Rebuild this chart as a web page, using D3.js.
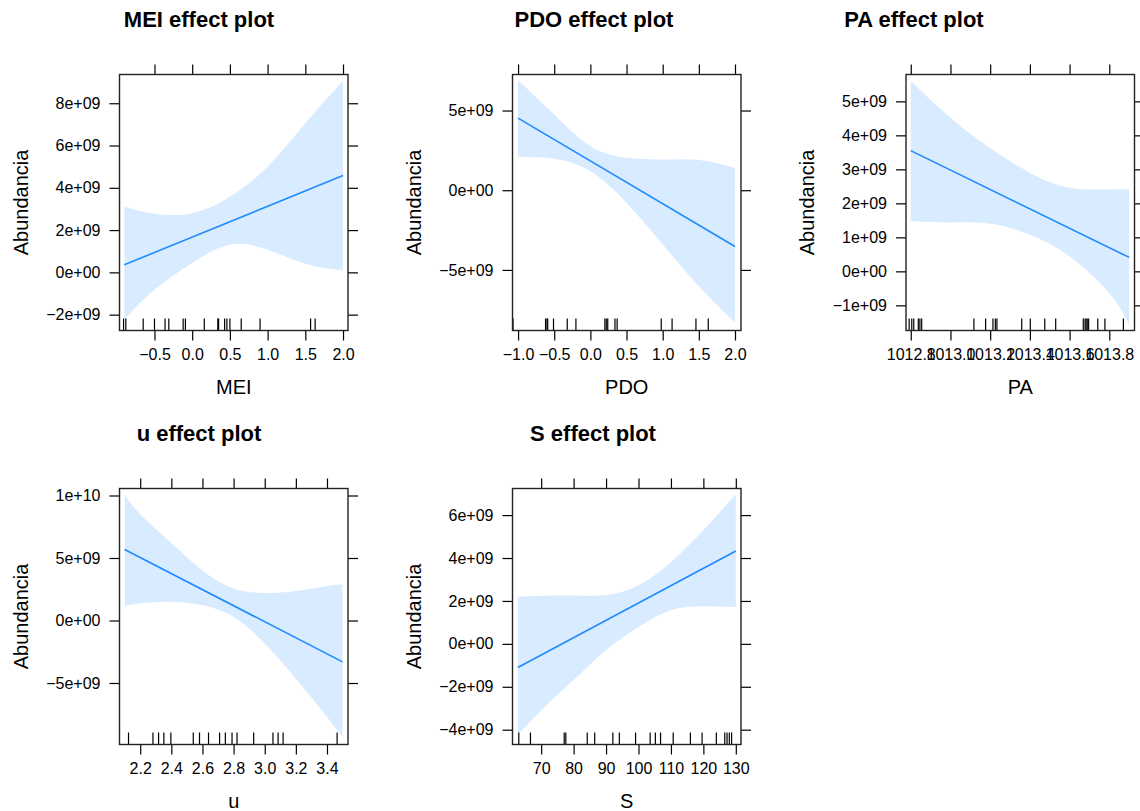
<!DOCTYPE html>
<html>
<head>
<meta charset="utf-8">
<script src="https://cdn.jsdelivr.net/npm/d3@7"></script>
<style>
  body { margin: 0; background: #fff; }
  svg text { font-family: "Liberation Sans", Arial, sans-serif; fill: #000; }
</style>
</head>
<body>
<svg id="chart" width="1140" height="811"></svg>
<script>
// values, abundance in units of 1e9

// MEI
const meiBandX = [-0.9, -0.5, 0, 0.5, 1.0, 1.5, 2.0];
const meiUpper = [3.1, 2.77, 2.8, 3.58, 5.0, 7.05, 9.06];
const meiLower = [-2.23, -0.82, 0.44, 1.31, 1.07, 0.41, 0.09];
const meiFitX = [-0.9, 2.0];
const meiFit = [0.36, 4.58];
const meiRug = [-0.91, -0.88, -0.65, -0.5, -0.36, -0.31, -0.12, -0.09, 0.16, 0.34, 0.35, 0.43, 0.46, 0.5, 0.65, 0.9, 1.57, 1.63];
const meiXTicks = [-0.5, 0, 0.5, 1, 1.5, 2];
const meiXLabels = ["\u22120.5", "0.0", "0.5", "1.0", "1.5", "2.0"];
const meiYTicks = [-2, 0, 2, 4, 6, 8];
const meiYLabels = ["\u22122e+09", "0e+00", "2e+09", "4e+09", "6e+09", "8e+09"];
const meiXLim = [-0.964, 2.066];
const meiYLim = [-2.75, 9.36];

// PDO
const pdoBandX = [-1.0, -0.5, 0, 0.5, 1.0, 1.5, 2.0];
const pdoUpper = [6.9, 4.75, 2.76, 2.03, 1.93, 1.9, 1.4];
const pdoLower = [2.1, 1.97, 1.19, -0.79, -3.41, -6.02, -8.32];
const pdoFitX = [-1.0, 2.0];
const pdoFit = [4.52, -3.53];
const pdoRug = [-1.07, -0.62, -0.6, -0.59, -0.51, -0.32, -0.2, 0.2, 0.22, 0.24, 0.34, 0.37, 0.98, 1.13, 1.46, 1.63];
const pdoXTicks = [-1, -0.5, 0, 0.5, 1, 1.5, 2];
const pdoXLabels = ["\u22121.0", "\u22120.5", "0.0", "0.5", "1.0", "1.5", "2.0"];
const pdoYTicks = [-5, 0, 5];
const pdoYLabels = ["\u22125e+09", "0e+00", "5e+09"];
const pdoXLim = [-1.077, 2.083];
const pdoYLim = [-8.8, 7.26];

// PA
const paBandX = [1012.8, 1013.0, 1013.2, 1013.4, 1013.6, 1013.8, 1013.9];
const paUpper = [5.6, 4.52, 3.63, 2.9, 2.46, 2.41, 2.41];
const paLower = [1.47, 1.44, 1.4, 1.08, 0.44, -0.64, -1.57];
const paFitX = [1012.8, 1013.9];
const paFit = [3.55, 0.41];
const paRug = [1012.792, 1012.805, 1012.815, 1012.838, 1012.846, 1012.855, 1013.118, 1013.177, 1013.214, 1013.226, 1013.234, 1013.359, 1013.402, 1013.475, 1013.53, 1013.669, 1013.678, 1013.683, 1013.689, 1013.696, 1013.742, 1013.778, 1013.871];
const paXTicks = [1012.8, 1013.0, 1013.2, 1013.4, 1013.6, 1013.8];
const paXLabels = ["1012.8", "1013.0", "1013.2", "1013.4", "1013.6", "1013.8"];
const paYTicks = [-1, 0, 1, 2, 3, 4, 5];
const paYLabels = ["\u22121e+09", "0e+00", "1e+09", "2e+09", "3e+09", "4e+09", "5e+09"];
const paXLim = [1012.776, 1013.927];
const paYLim = [-1.74, 5.79];

// u
const uBandX = [2.1, 2.2, 2.4, 2.6, 2.8, 3.0, 3.2, 3.4, 3.5];
const uUpper = [10.1, 8.5, 6.2, 4.0, 2.56, 2.21, 2.37, 2.77, 2.88];
const uLower = [1.17, 1.36, 1.49, 1.22, 0.29, -1.84, -4.64, -7.71, -9.31];
const uFitX = [2.1, 3.5];
const uFit = [5.68, -3.31];
const uRug = [2.125, 2.282, 2.318, 2.352, 2.397, 2.541, 2.581, 2.639, 2.71, 2.747, 2.79, 2.822, 2.929, 3.053, 3.086, 3.118, 3.465];
const uXTicks = [2.2, 2.4, 2.6, 2.8, 3.0, 3.2, 3.4];
const uXLabels = ["2.2", "2.4", "2.6", "2.8", "3.0", "3.2", "3.4"];
const uYTicks = [-5, 0, 5, 10];
const uYLabels = ["\u22125e+09", "0e+00", "5e+09", "1e+10"];
const uXLim = [2.067, 3.535];
const uYLim = [-9.92, 10.56];

// S
const sBandX = [62.8, 70, 80, 90, 100, 110, 120, 130];
const sUpper = [2.19, 2.24, 2.25, 2.28, 2.73, 3.82, 5.3, 6.97];
const sLower = [-4.25, -3.09, -1.69, -0.29, 0.79, 1.57, 1.75, 1.72];
const sFitX = [62.8, 130];
const sFit = [-1.1, 4.33];
const sRug = [63.1, 66.7, 77.1, 77.6, 84.2, 86.5, 92.1, 94.1, 99.1, 103.6, 105.2, 106.8, 110.7, 116.0, 119.6, 124.0, 126.6, 127.3, 128.0, 128.7];
const sXTicks = [70, 80, 90, 100, 110, 120, 130];
const sXLabels = ["70", "80", "90", "100", "110", "120", "130"];
const sYTicks = [-4, -2, 0, 2, 4, 6];
const sYLabels = ["\u22124e+09", "\u22122e+09", "0e+00", "2e+09", "4e+09", "6e+09"];
const sXLim = [61.16, 131.6];
const sYLim = [-4.69, 7.24];

const panels = [
  { name: "MEI", bandX: meiBandX, upper: meiUpper, lower: meiLower, fitX: meiFitX, fit: meiFit, rug: meiRug, xTicks: meiXTicks, xLabels: meiXLabels, yTicks: meiYTicks, yLabels: meiYLabels, xLim: meiXLim, yLim: meiYLim, col: 0, row: 0, titleX: 199 },
  { name: "PDO", bandX: pdoBandX, upper: pdoUpper, lower: pdoLower, fitX: pdoFitX, fit: pdoFit, rug: pdoRug, xTicks: pdoXTicks, xLabels: pdoXLabels, yTicks: pdoYTicks, yLabels: pdoYLabels, xLim: pdoXLim, yLim: pdoYLim, col: 1, row: 0, titleX: 594 },
  { name: "PA", bandX: paBandX, upper: paUpper, lower: paLower, fitX: paFitX, fit: paFit, rug: paRug, xTicks: paXTicks, xLabels: paXLabels, yTicks: paYTicks, yLabels: paYLabels, xLim: paXLim, yLim: paYLim, col: 2, row: 0, titleX: 914 },
  { name: "u", bandX: uBandX, upper: uUpper, lower: uLower, fitX: uFitX, fit: uFit, rug: uRug, xTicks: uXTicks, xLabels: uXLabels, yTicks: uYTicks, yLabels: uYLabels, xLim: uXLim, yLim: uYLim, col: 0, row: 1, titleX: 199 },
  { name: "S", bandX: sBandX, upper: sUpper, lower: sLower, fitX: sFitX, fit: sFit, rug: sRug, xTicks: sXTicks, xLabels: sXLabels, yTicks: sYTicks, yLabels: sYLabels, xLim: sXLim, yLim: sYLim, col: 1, row: 1, titleX: 593 }
];

// layout
const colLeft = [119.5, 512.5, 906];
const rowTop = [74.5, 488.5];
const pw = 228.5, ph = 256;
const lineCol = "#1f8bff";
const bandCol = "#d9ebff";

const svg = d3.select("#chart");

panels.forEach((p, k) => {
  const left = colLeft[p.col], top = rowTop[p.row];
  const x = d3.scaleLinear().domain(p.xLim).range([0, pw]);
  const y = d3.scaleLinear().domain(p.yLim).range([ph, 0]);

  // title
  svg.append("text")
    .attr("x", p.titleX)
    .attr("y", top - 48)
    .attr("text-anchor", "middle")
    .style("font-size", "22px")
    .style("font-weight", "bold")
    .text(p.name + " effect plot");

  const g = svg.append("g").attr("transform", `translate(${left},${top})`);

  svg.append("clipPath").attr("id", "clip" + k)
    .append("rect").attr("width", pw).attr("height", ph);

  const inner = g.append("g").attr("clip-path", `url(#clip${k})`);

  const band = p.bandX.map((v, i) => ({ x: v, lo: p.lower[i], hi: p.upper[i] }));
  inner.append("path")
    .datum(band)
    .attr("fill", bandCol)
    .attr("d", d3.area()
      .x(d => x(d.x))
      .y0(d => y(d.lo))
      .y1(d => y(d.hi))
      .curve(d3.curveNatural));

  inner.append("path")
    .datum(p.fitX.map((v, i) => [v, p.fit[i]]))
    .attr("fill", "none")
    .attr("stroke", lineCol)
    .attr("stroke-width", 1.6)
    .attr("d", d3.line().x(d => x(d[0])).y(d => y(d[1])));

  // rug
  inner.selectAll("line.rug")
    .data(p.rug)
    .join("line")
    .attr("class", "rug")
    .attr("x1", d => x(d)).attr("x2", d => x(d))
    .attr("y1", ph).attr("y2", ph - 12)
    .attr("stroke", "#000")
    .attr("stroke-width", 1.2);

  // axes
  const fmtX = (d, i) => p.xLabels[i];
  const fmtY = (d, i) => p.yLabels[i];

  const bottom = g.append("g").attr("transform", `translate(0,${ph})`)
    .call(d3.axisBottom(x).tickValues(p.xTicks).tickFormat(fmtX).tickSize(10).tickPadding(8.5));
  const topAx = g.append("g")
    .call(d3.axisTop(x).tickValues(p.xTicks).tickFormat("").tickSize(10));
  const leftAx = g.append("g")
    .call(d3.axisLeft(y).tickValues(p.yTicks).tickFormat(fmtY).tickSize(10).tickPadding(9));
  const rightAx = g.append("g").attr("transform", `translate(${pw},0)`)
    .call(d3.axisRight(y).tickValues(p.yTicks).tickFormat("").tickSize(10));

  [bottom, topAx, leftAx, rightAx].forEach(a => {
    a.select(".domain").remove();
    a.selectAll("line").attr("stroke", "#000").attr("stroke-width", 1.2);
    a.selectAll("text").style("font-size", "16px").attr("fill", "#000");
    a.attr("font-family", null);
  });

  g.append("rect")
    .attr("width", pw).attr("height", ph)
    .attr("fill", "none")
    .attr("stroke", "#222")
    .attr("stroke-width", 1.4);

  // axis labels
  g.append("text")
    .attr("x", pw / 2)
    .attr("y", ph + 63)
    .attr("text-anchor", "middle")
    .style("font-size", "20px")
    .text(p.name);

  g.append("text")
    .attr("transform", `translate(-92,${ph / 2}) rotate(-90)`)
    .attr("text-anchor", "middle")
    .style("font-size", "20px")
    .text("Abundancia");
});
</script>
</body>
</html>
